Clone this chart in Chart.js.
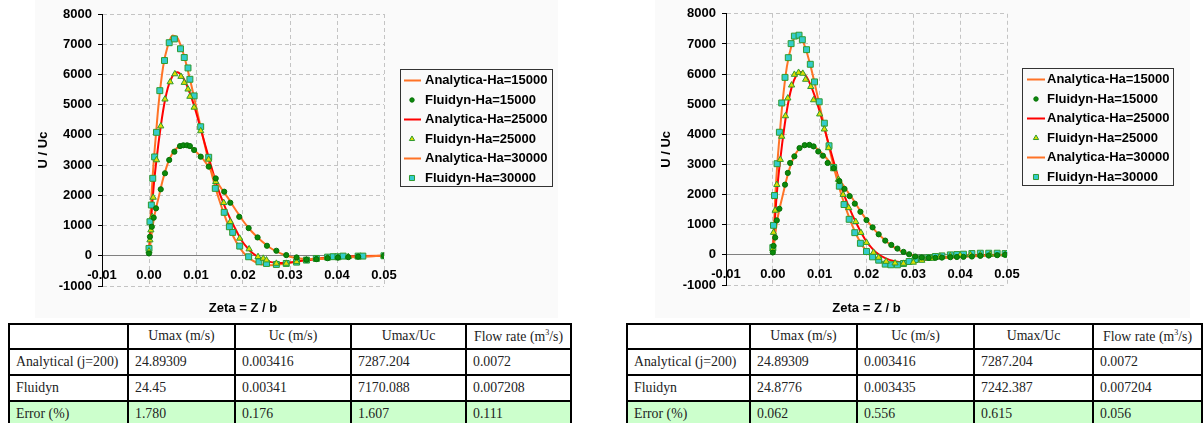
<!DOCTYPE html>
<html>
<head>
<meta charset="utf-8">
<title>Perfiles U / Uc - Analytica vs Fluidyn</title>
<script src="https://cdn.jsdelivr.net/npm/chart.js@4.4.0/dist/chart.umd.min.js"></script>
<style>
    body { margin: 0; background: #fff; width: 1203px; height: 423px; position: relative; overflow: hidden; }
    .panel { position: absolute; top: 0; height: 318px; background: #fafafa; }
    canvas { position: absolute; top: 0; }
    table.res { position: absolute; top: 323px; border-collapse: collapse; table-layout: fixed;
        font-family: "Liberation Serif", "Times New Roman", serif; font-size: 13.8px; color: #222; }
    table.res td { border: 2px solid #000; padding: 0 0 1px 6px; white-space: nowrap; overflow: hidden; }
    table.res tr.head td { text-align: center; padding: 0 0 1px 0; height: 22px; }
    table.res tr.body td { height: 23px; }
    table.res tr.err td { background: #ccffcc; }
</style>
</head>
<body>
<div class="panel" style="left:35px; width:523px;"></div>
<div class="panel" style="left:655px; width:535px;"></div>
<canvas id="chartIzq" width="600" height="320" style="left:0px;"></canvas>
<canvas id="chartDer" width="583" height="320" style="left:620px;"></canvas>
<table class="res" id="tablaIzq" style="left:8px; width:562px;"></table>
<table class="res" id="tablaDer" style="left:626px; width:575px;"></table>

<script>
// =========================================================
// 1. Datos
// =========================================================
const zeta     = [0, 0.0005, 0.001, 0.0015, 0.002, 0.003, 0.004, 0.005, 0.006, 0.007, 0.008, 0.009, 0.010, 0.011, 0.012, 0.013, 0.014, 0.015, 0.016, 0.017, 0.018, 0.019, 0.020, 0.021, 0.022, 0.024, 0.026, 0.028, 0.030, 0.032, 0.035, 0.040, 0.045, 0.050];
const ana15000 = [0, 650, 1200, 1580, 1900, 2550, 3060, 3390, 3570, 3640, 3650, 3580, 3440, 3290, 3100, 2870, 2580, 2320, 2090, 1870, 1620, 1390, 1160, 960, 780, 480, 240, 80, -30, -90, -115, -75, -30, 0];
const ana25000 = [0, 1300, 2300, 3050, 3700, 4800, 5550, 5950, 6070, 5950, 5660, 5250, 4760, 4200, 3640, 3090, 2560, 2080, 1680, 1320, 1000, 700, 440, 250, 90, -110, -210, -240, -220, -180, -120, -50, -15, 0];
const ana30000 = [0, 1900, 3100, 4050, 4950, 6250, 6950, 7290, 7220, 6850, 6300, 5650, 4950, 4250, 3580, 2920, 2330, 1820, 1370, 960, 620, 340, 120, -40, -150, -290, -310, -280, -230, -170, -100, -35, -10, 0];

// Fluidyn, gráfico izquierdo [zeta, U/Uc]
const izqFlu15000 = [[0, 77], [0.0002, 630], [0.0006, 960], [0.001, 1260], [0.0015, 1570], [0.0025, 2200], [0.0034, 2730], [0.0043, 3170], [0.0054, 3445], [0.0066, 3630], [0.0073, 3655], [0.0081, 3655], [0.0087, 3630], [0.0096, 3500], [0.011, 3280], [0.0127, 2950], [0.0142, 2560], [0.016, 2120], [0.0173, 1755], [0.0192, 1290], [0.0212, 916], [0.0231, 607], [0.0251, 331], [0.0271, 166], [0.0292, 22], [0.0314, -55], [0.0335, -130], [0.0356, -110], [0.038, -80], [0.0402, -60], [0.0424, -45], [0.0445, -30], [0.05, 0]];
const izqFlu25000 = [[0, 155], [0.0002, 520], [0.0004, 850], [0.0007, 1290], [0.0009, 1930], [0.0016, 3170], [0.0025, 4290], [0.0034, 5180], [0.0045, 5750], [0.0055, 6015], [0.0068, 5930], [0.0075, 5730], [0.0083, 5510], [0.0087, 5270], [0.0096, 4910], [0.011, 4130], [0.0127, 3190], [0.0142, 2450], [0.0159, 1755], [0.0173, 1125], [0.0193, 575], [0.0213, 222], [0.0232, -33], [0.0243, -88], [0.025, -143], [0.0271, -254], [0.0292, -254], [0.0314, -199], [0.0335, -143], [0.0356, -110], [0.038, -66], [0.0402, -55], [0.0424, -33], [0.0445, -33], [0.05, -11]];
const izqFlu30000 = [[0, 243], [0.0002, 1126], [0.0005, 1680], [0.0008, 2563], [0.0012, 3270], [0.0016, 4085], [0.0023, 5464], [0.0033, 6460], [0.0043, 7050], [0.0054, 7175], [0.0067, 6850], [0.0075, 6560], [0.0083, 6215], [0.0087, 5840], [0.0096, 5290], [0.011, 4270], [0.0127, 3260], [0.0141, 2230], [0.016, 1437], [0.0171, 960], [0.0178, 773], [0.0193, 320], [0.0212, -33], [0.0234, -199], [0.025, -254], [0.0271, -287], [0.0292, -254], [0.0314, -210], [0.0335, -143], [0.0356, -88], [0.038, -44], [0.0392, -30], [0.0402, -33], [0.0413, -11], [0.0445, -11], [0.0455, -10], [0.05, 0]];

// Fluidyn, gráfico derecho [zeta, U/Uc]
const derFlu15000 = [[0, 80], [0.00014, 300], [0.0005, 575], [0.00085, 1145], [0.0014, 1530], [0.0026, 2330], [0.0032, 2720], [0.0037, 3050], [0.0046, 3270], [0.0057, 3545], [0.0068, 3640], [0.0078, 3650], [0.0087, 3600], [0.0097, 3430], [0.0107, 3290], [0.0117, 3050], [0.013, 2880], [0.0142, 2450], [0.0153, 2190], [0.0164, 1950], [0.0175, 1700], [0.0187, 1430], [0.02, 1155], [0.0213, 913], [0.0226, 682], [0.024, 473], [0.0253, 330], [0.0266, 209], [0.0279, 99], [0.0291, 20], [0.0304, -55], [0.0318, -88], [0.0333, -99], [0.0347, -99], [0.0361, -90], [0.0379, -77], [0.0393, -70], [0.0407, -66], [0.0425, -55], [0.0443, -33], [0.0461, -22], [0.0479, -10], [0.0496, 0]];
const derFlu25000 = [[0, 190], [0.00014, 740], [0.0005, 1475], [0.00085, 2330], [0.0016, 3160], [0.0019, 3930], [0.0027, 4610], [0.0032, 5200], [0.004, 5630], [0.0046, 5985], [0.0055, 6050], [0.0064, 6020], [0.007, 5820], [0.0081, 5580], [0.0087, 5140], [0.01, 4670], [0.011, 4170], [0.0119, 3550], [0.013, 2850], [0.014, 2500], [0.015, 2000], [0.0162, 1560], [0.0177, 1100], [0.0188, 737], [0.02, 407], [0.0215, 77], [0.0226, -88], [0.0242, -220], [0.0261, -275], [0.0279, -286], [0.03, -250], [0.0318, -187], [0.0339, -121], [0.0357, -66], [0.0379, -33], [0.04, -11], [0.0422, 0], [0.0443, 0], [0.0464, 11], [0.0496, 10]];
const derFlu30000 = [[0, 242], [0.00014, 980], [0.00036, 1970], [0.0009, 3025], [0.0014, 4070], [0.0019, 5040], [0.0026, 5890], [0.0033, 6545], [0.0039, 7010], [0.0046, 7260], [0.0056, 7290], [0.0063, 7140], [0.0072, 6810], [0.008, 6325], [0.0089, 5740], [0.0099, 5080], [0.011, 4370], [0.012, 3620], [0.013, 2900], [0.0142, 2280], [0.0152, 1670], [0.0163, 1180], [0.0175, 737], [0.0187, 385], [0.02, 110], [0.0213, -66], [0.0226, -176], [0.024, -308], [0.0252, -330], [0.0266, -330], [0.0279, -286], [0.0291, -220], [0.0304, -154], [0.0318, -99], [0.0333, -88], [0.0347, -55], [0.0361, -33], [0.0379, 0], [0.0393, 11], [0.0407, 22], [0.0425, 44], [0.0443, 55], [0.0461, 55], [0.0479, 55], [0.0496, 44]];

// Tablas de resultados
const encabezados = ['', 'Umax (m/s)', 'Uc (m/s)', 'Umax/Uc', 'Flow rate (m<sup style="font-size:8px">3</sup>/s)'];
const filasNombre = ['Analytical (j=200)', 'Fluidyn', 'Error (%)'];
const tablaIzqDatos = [['24.89309', '0.003416', '7287.204', '0.0072'], ['24.45', '0.00341', '7170.088', '0.007208'], ['1.780', '0.176', '1.607', '0.111']];
const tablaDerDatos = [['24.89309', '0.003416', '7287.204', '0.0072'], ['24.8776', '0.003435', '7242.387', '0.007204'], ['0.062', '0.556', '0.615', '0.056']];
const colsIzq = [119, 107, 116, 115, 105];
const colsDer = [123, 107, 117, 119, 109];

const NARANJA = '#ff7326';
const ROJO = '#ff0000';

document.addEventListener('DOMContentLoaded', function() {

    // =========================================================
    // 2. Tablas
    // =========================================================
    function llenarTabla(id, datos, anchos) {
        const tabla = document.getElementById(id);
        let html = '<colgroup>' + anchos.map(w => '<col style="width:' + w + 'px">').join('') + '</colgroup>';
        html += '<tr class="head">' + encabezados.map(t => '<td>' + t + '</td>').join('') + '</tr>';
        datos.forEach((fila, i) => {
            const cls = i === 2 ? 'body err' : 'body';
            html += '<tr class="' + cls + '"><td>' + filasNombre[i] + '</td>' + fila.map(v => '<td>' + v + '</td>').join('') + '</tr>';
        });
        tabla.innerHTML = html;
    }
    llenarTabla('tablaIzq', tablaIzqDatos, colsIzq);
    llenarTabla('tablaDer', tablaDerDatos, colsDer);

    // =========================================================
    // 3. Gráficos (Chart.js)
    // =========================================================
    if (typeof Chart === 'undefined') {
        console.error("Chart.js no está cargado.");
        return;
    }

    Chart.defaults.font.family = '"Liberation Sans", Arial, sans-serif';
    Chart.defaults.font.size = 13;
    Chart.defaults.font.weight = 'bold';
    Chart.defaults.color = '#000';

    const curva = ys => zeta.map((z, i) => ({ x: z, y: ys[i] }));
    const puntos = p => p.map(v => ({ x: v[0], y: v[1] }));

    function armarDatasets(f15, f25, f30) {
        const linea = (label, ys, color) => ({
            label: label, data: curva(ys), showLine: true, borderColor: color, backgroundColor: color,
            borderWidth: 2, pointRadius: 0, cubicInterpolationMode: 'monotone', order: 2
        });
        return [
            linea('Analytica-Ha=15000', ana15000, NARANJA),
            { label: 'Fluidyn-Ha=15000', data: puntos(f15), pointStyle: 'circle', pointRadius: 2.6,
              backgroundColor: '#0b8a0b', borderColor: '#067006', borderWidth: 1, order: 1 },
            linea('Analytica-Ha=25000', ana25000, ROJO),
            { label: 'Fluidyn-Ha=25000', data: puntos(f25), pointStyle: 'triangle', pointRadius: 3.6,
              backgroundColor: '#dede00', borderColor: '#2f9a2f', borderWidth: 1, order: 1 },
            linea('Analytica-Ha=30000', ana30000, NARANJA),
            { label: 'Fluidyn-Ha=30000', data: puntos(f30), pointStyle: 'rect', pointRadius: 4.2,
              backgroundColor: '#33cccc', borderColor: '#2f9a2f', borderWidth: 1, order: 1 }
        ];
    }

    // Leyenda con recuadro, dibujada en una posición fija
    const leyendaRecuadro = {
        id: 'leyendaRecuadro',
        afterDraw(chart, args, o) {
            const ctx = chart.ctx;
            ctx.save();
            ctx.strokeStyle = '#333';
            ctx.lineWidth = 1;
            ctx.strokeRect(o.x + 0.5, o.y + 0.5, o.w, o.h);
            ctx.font = 'bold 13px "Liberation Sans", Arial, sans-serif';
            ctx.textBaseline = 'middle';
            chart.data.datasets.forEach((ds, i) => {
                const cy = o.y + 11.5 + i * 19.5;
                if (ds.pointRadius === 0) {
                    ctx.strokeStyle = ds.borderColor;
                    ctx.lineWidth = 2;
                    ctx.beginPath();
                    ctx.moveTo(o.x + o.linea0, cy);
                    ctx.lineTo(o.x + o.linea1, cy);
                    ctx.stroke();
                } else {
                    ctx.fillStyle = ds.backgroundColor;
                    ctx.strokeStyle = ds.borderColor;
                    ctx.lineWidth = 1;
                    Chart.helpers.drawPoint(ctx, { pointStyle: ds.pointStyle, radius: ds.pointRadius * 0.85, borderWidth: 1, rotation: 0 }, o.x + o.marca, cy);
                }
                ctx.fillStyle = '#000';
                ctx.fillText(ds.label, o.x + o.texto, cy);
            });
            ctx.restore();
        }
    };

    function crearGrafico(id, datasets, cfg) {
        return new Chart(document.getElementById(id), {
            type: 'scatter',
            data: { datasets: datasets },
            options: {
                responsive: false,
                animation: false,
                events: [],
                layout: { padding: { left: 0, right: cfg.padDer, top: cfg.padSup, bottom: 0 } },
                plugins: {
                    legend: { display: false },
                    tooltip: { enabled: false },
                    leyendaRecuadro: cfg.leyenda
                },
                scales: {
                    x: {
                        type: 'linear', min: -0.01, max: 0.05,
                        // etiquetas espejadas: quedan sobre el borde inferior, junto a la línea del cero
                        ticks: { stepSize: 0.01, mirror: true, padding: 3, maxRotation: 0, autoSkip: false,
                                 callback: v => Math.abs(v) < 1e-9 ? '0.00' : v.toFixed(2) },
                        grid: { color: '#c4c4c4', drawTicks: false },
                        border: { display: false, dash: [4, 3] },
                        title: { display: true, text: 'Zeta = Z / b', padding: { top: 0, bottom: 4 } },
                        afterFit: s => { s.height = cfg.altoX; }
                    },
                    y: {
                        min: -1000, max: 8000,
                        ticks: { stepSize: 1000, padding: 6, callback: v => String(v) },
                        grid: {
                            color: c => (c.tick && c.tick.value === 0) ? '#808080' : '#c4c4c4',
                            tickColor: '#000', tickLength: 4
                        },
                        border: { display: true, color: '#000', width: 1,
                                  dash: c => (c.tick && c.tick.value !== 0) ? [4, 3] : [] },
                        title: { display: true, text: 'U / Uc', padding: { top: cfg.padTitY, bottom: 0 } },
                        afterFit: s => { s.width = cfg.anchoY; }
                    }
                }
            },
            plugins: [leyendaRecuadro]
        });
    }

    crearGrafico('chartIzq', armarDatasets(izqFlu15000, izqFlu25000, izqFlu30000), {
        padDer: 216, padSup: 14, altoX: 34, anchoY: 102, padTitY: 36,
        leyenda: { x: 400, y: 69, w: 152, h: 117, linea0: 4, linea1: 21, marca: 12, texto: 25 }
    });
    crearGrafico('chartDer', armarDatasets(derFlu15000, derFlu25000, derFlu30000), {
        padDer: 196, padSup: 13, altoX: 35, anchoY: 106, padTitY: 39,
        leyenda: { x: 402, y: 68, w: 151, h: 117, linea0: 5, linea1: 23, marca: 14, texto: 25 }
    });
});
</script>
</body>
</html>
